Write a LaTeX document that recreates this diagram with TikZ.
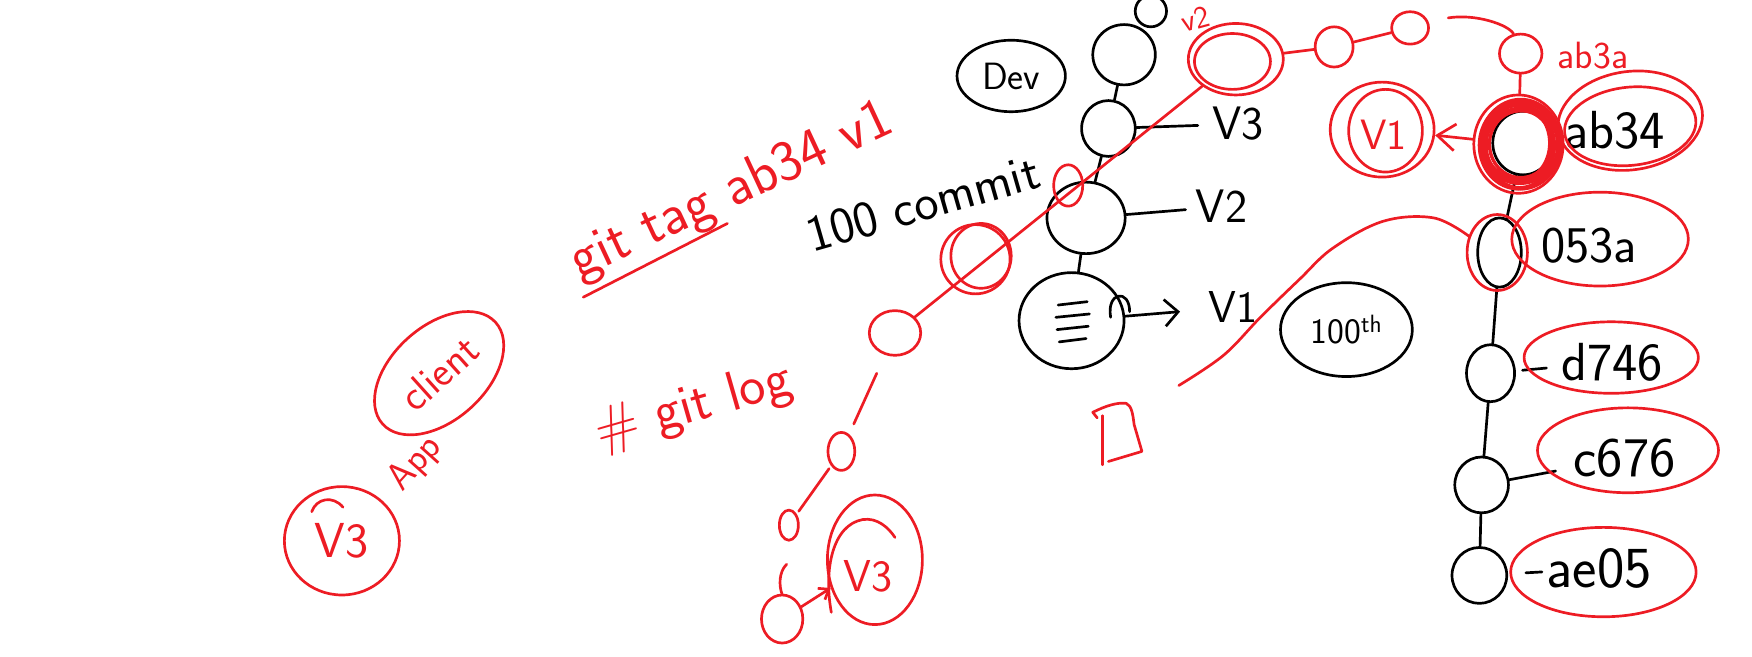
\documentclass[tikz,border=0pt]{standalone}
\usepackage{fontspec}
\usetikzlibrary{shapes.geometric,arrows.meta}
\definecolor{penred}{RGB}{237,28,36}
\newcommand{\fsz}[1]{\fontsize{#1}{#1}\selectfont}
\begin{document}
\begin{tikzpicture}[x=1pt,y=-1pt,line width=2.4pt,line cap=round,line join=round,
  cn/.style args={#1/#2}{ellipse,draw=black,inner sep=0pt,minimum width=#1pt,minimum height=#2pt},
  rn/.style args={#1/#2}{ellipse,draw=penred,inner sep=0pt,minimum width=#1pt,minimum height=#2pt},
  blab/.style={inner sep=3pt,text=black,font=\sffamily\fsz{#1}},
  rlab/.style={inner sep=3pt,text=penred,font=\sffamily\fsz{#1}},
  rp/.style={draw=penred},
  barb/.style={-{Straight Barb[length=#1pt,width=24pt]}}]
\useasboundingbox (0,0) rectangle (1568,588);

% ---------- black: left commit column ----------
\node[cn=97/64,font=\sffamily\fsz{34}] (dev) at (905,68) {Dev};
\node[cn=28/28] (c0) at (1030,10) {};
\node[cn=56/54] (c1) at (1006,49) {};
\node[cn=48/50] (cV3) at (992,115) {};
\node[cn=70/64] (cV2) at (972,195) {};
\node[cn=94/86] (cV1) at (959,287) {};
\draw (c1) -- (cV3);
\draw (cV3) -- (cV2);
\draw (cV2) -- (cV1);
\node[blab=42,anchor=west] (tV3) at (1081,111) {V3};
\node[blab=42,anchor=west] (tV2) at (1066,185) {V2};
\node[blab=40,anchor=west] (tV1) at (1077,275) {V1};
\draw[shorten >=9pt] (cV3) -- (tV3);
\draw[shorten >=5pt] (cV2) -- (tV2);
\draw[shorten >=21pt,barb=12] (cV1) -- (tV1);
\draw (994,284) .. controls (990,261) and (1011,258) .. (1011,279);
\draw (947,273) -- (973,270);
\draw (945,284) -- (975,281);
\draw (946,295) -- (974,292);
\draw (948,306) -- (972,303);
\node[blab=46,rotate=16] (t100) at (826,182) {100 commit};
\node[cn=118/84,font=\sffamily\fsz{32}] (n100th) at (1205,295) {100\textsuperscript{th}};

% ---------- black: right commit column ----------
\node[cn=54/57] (nab34) at (1363,128) {};
\node[cn=39/62] (n053a) at (1342,226) {};
\node[cn=43/51] (nd746) at (1334,334) {};
\node[cn=48/50] (nc676) at (1326,434) {};
\node[cn=49/50] (nae05) at (1324,515) {};
\draw (nab34) -- (n053a);
\draw (n053a) -- (nd746);
\draw (nd746) -- (nc676);
\draw (nc676) -- (nae05);
\node[blab=48,anchor=west] (tab34) at (1396,117) {ab34};
\node[blab=46,anchor=west] (t053a) at (1375,220) {053a};
\node[blab=48,anchor=west] (td746) at (1393,324) {d746};
\node[blab=50,anchor=west] (tc676) at (1404,410) {c676};
\node[blab=52,anchor=west] (tae05) at (1380,509) {ae05};
\draw[shorten <=6pt,shorten >=9pt] (nd746) -- (td746);
\draw[shorten >=12pt] (nc676) -- (tc676);
\draw[shorten <=16pt] (nae05) -- (tae05);

% ---------- red: top chain ----------
\node[rn=85/64] (rV2) at (1106,53) {};
\draw[rp] (1103,55) ellipse[x radius=34,y radius=25];
\node[rlab=28,rotate=15] (tv2) at (1070,17) {v2};
\node[rn=34/36] (rC1) at (1194,42) {};
\node[rn=33/29] (rC2) at (1262,25) {};
\draw[rp] (rV2) -- (rC1);
\draw[rp] (rC1) -- (rC2);
\node[rn=38/35] (rab3a) at (1361,48) {};
\node[rlab=34,anchor=west] (tab3a) at (1390,50) {ab3a};
\draw[rp,shorten <=18pt] (rC2.20) .. controls (1320,12) and (1350,22) .. (rab3a.110);
\node[rn=80/88] (rRing) at (1359,129) {};
\foreach \rx/\ry/\dx/\dy in {28/30/1/0,30/33/0/1,32/35/-1/0,34/36/1/-1,31/37/0/2,35/39/-1/1,36/40/1/0,29/34/-2/-1,33/31/2/1}
  \draw[rp,line width=3pt] ({1360+\dx},{129+\dy}) ellipse[x radius=\rx,y radius=\ry];
\draw[rp] (rab3a) -- (rRing);
\node[rn=93/85] (rV1) at (1237,116) {};
\draw[rp] (1240,117) ellipse[x radius=33,y radius=37];
\node[rlab=38] (tV1r) at (1238,121) {V1};
\draw[rp,barb=16] (rRing) -- (rV1);

% ---------- red: rings round the hashes ----------
\draw[rp,rotate around={8:(1459,108)}] (1459,108) ellipse[x radius=65,y radius=44];
\draw[rp,rotate around={6:(1459,113)}] (1459,113) ellipse[x radius=59,y radius=35];
\draw[rp] (1432,214) ellipse[x radius=79,y radius=42];
\node[rn=54/68] (r053a) at (1340,226) {};
\draw[rp] (1442,320) ellipse[x radius=78,y radius=32];
\draw[rp] (1457,403) ellipse[x radius=81,y radius=38];
\draw[rp] (1435,512) ellipse[x radius=83,y radius=40];
\coordinate (curveEnd) at (1055,345);
\draw[rp] plot[smooth,tension=0.6] coordinates {(r053a.150) (1283,195) (1238,198) (1193,222) (1163,250) (1128,284) (1095,318) (curveEnd)};
\draw[rp] (982,374) -- (978,369) .. controls (990,363) and (1000,360) .. (1008,361)
  .. controls (1013,363) and (1014,372) .. (1015,380) -- (1022,404) -- (992,413);
\draw[rp] (987,372) -- (987,416);

% ---------- red: diagonal chain ----------
\node[rn=26/37] (rS) at (956,166) {};
\node[rn=62/62] (rB) at (873,232) {};
\draw[rp] (878,229) ellipse[x radius=27,y radius=29];
\node[rn=46/40] (rA) at (801,298) {};
\draw[rp] (rV2) -- (rA);
\node[rn=24/34] (rO1) at (753,404) {};
\node[rn=17/27] (rO2) at (706,470) {};
\node[rn=37/43] (rO3) at (700,554) {};
\draw[rp,shorten <=18pt,shorten >=10pt] (rA) -- (rO1);
\draw[rp,shorten <=3pt,shorten >=3pt] (rO1) -- (rO2);
\draw[rp] (704,505) .. controls (697,512) and (697,524) .. (700,532);
\node[rn=85/116] (rV3b) at (783,501) {};
\node[rlab=40] (tV3b) at (777,516) {V3};
\draw[rp] (744,548) .. controls (737,510) and (745,470) .. (772,465) .. controls (785,463) and (795,472) .. (801,481);
\draw[rp,-{Straight Barb[length=8pt,width=12pt]}] (rO3) -- (rV3b);

% ---------- red: left notes ----------
\node[rn=103/97,font=\sffamily\fsz{44},text=penred] (rV3a) at (306,484) {V3};
\draw[rp] (279,458) .. controls (283,446) and (298,443) .. (307,454);
\node[rn=136/84,rotate=42,font=\sffamily\fsz{38},text=penred] (rClient) at (393,334) {client};
\node[rlab=34,rotate=48] (tApp) at (372,415) {App};
\node[rlab=52,rotate=25] (tGitTag) at (655,172) {git tag ab34 v1};
\coordinate (ul1) at (522,266);
\coordinate (ul2) at (651,200);
\draw[rp] (ul1) -- (ul2);
\node[rlab=50,rotate=16] (tGitLog) at (621,365) {\# git log};
\end{tikzpicture}
\end{document}
